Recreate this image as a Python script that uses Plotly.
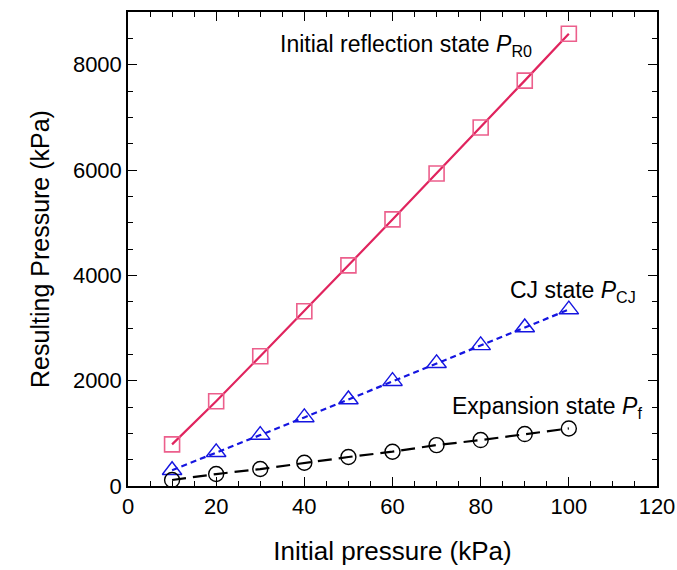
import plotly.graph_objects as go

x_kpa = [10, 20, 30, 40, 50, 60, 70, 80, 90, 100]
p_reflect = [790, 1610, 2465, 3318, 4190, 5062, 5934, 6806, 7697, 8588]
p_cj = [300, 640, 967, 1302, 1643, 1990, 2330, 2670, 3010, 3350]
p_exp = [114, 227, 322, 442, 550, 651, 777, 872, 986, 1093]

x_ticks = [0, 20, 40, 60, 80, 100, 120]
y_ticks = [0, 2000, 4000, 6000, 8000]

FONT = "Liberation Sans, Arial, sans-serif"

fig = go.Figure()
fig.add_trace(go.Scatter(
    x=x_kpa, y=p_reflect, mode="lines+markers",
    line=dict(color="#e0245e", width=2.2),
    marker=dict(symbol="square-open", size=15, color="#ec5f8c", line=dict(width=1.6)),
    showlegend=False))
fig.add_trace(go.Scatter(
    x=x_kpa, y=p_cj, mode="lines+markers",
    line=dict(color="#1515e0", width=2.2, dash="6px,4px"),
    marker=dict(symbol="triangle-up-open", size=17, color="#1515e0", line=dict(width=1.4)),
    showlegend=False))
fig.add_trace(go.Scatter(
    x=x_kpa, y=p_exp, mode="lines+markers",
    line=dict(color="black", width=2.2, dash="14px,7px"),
    marker=dict(symbol="circle-open", size=15, color="black", line=dict(width=1.4)),
    showlegend=False))

axis_common = dict(
    showline=True, linecolor="black", linewidth=1.5, mirror="allticks",
    ticks="inside", ticklen=9, tickwidth=1.3, tickcolor="black",
    showgrid=False, zeroline=False, automargin=False,
    tickfont=dict(family=FONT, size=22, color="black"),
)

fig.update_xaxes(
    range=[0, 120], tickvals=x_ticks, ticktext=[str(v) for v in x_ticks],
    minor=dict(ticks="inside", ticklen=5, tickwidth=1.2, tickcolor="black", dtick=5, tick0=0, showgrid=False),
    title=dict(text="Initial pressure (kPa)", font=dict(family=FONT, size=26, color="black"), standoff=24),
    **axis_common)
fig.update_yaxes(
    range=[0, 9000], tickvals=y_ticks, ticktext=[str(v) for v in y_ticks],
    minor=dict(ticks="inside", ticklen=5, tickwidth=1.2, tickcolor="black", dtick=500, tick0=0, showgrid=False),
    title=dict(text="Resulting Pressure (kPa)", font=dict(family=FONT, size=25, color="black"), standoff=16),
    **axis_common)

ann_font = dict(family=FONT, size=23, color="black")
fig.add_annotation(x=0.2836, y=0.93, xref="paper", yref="paper", xanchor="left", yanchor="middle",
                   text="Initial reflection state <i>P</i><sub>R0</sub>", showarrow=False, font=ann_font)
fig.add_annotation(x=0.718, y=0.41, xref="paper", yref="paper", xanchor="left", yanchor="middle",
                   text="CJ state <i>P</i><sub>CJ</sub>", showarrow=False, font=ann_font)
fig.add_annotation(x=0.608, y=0.165, xref="paper", yref="paper", xanchor="left", yanchor="middle",
                   text="Expansion state <i>P</i><sub>f</sub>", showarrow=False, font=ann_font)

fig.update_layout(
    width=677, height=570,
    margin=dict(l=128, r=20, t=12, b=84, autoexpand=False),
    plot_bgcolor="white", paper_bgcolor="white",
    font=dict(family=FONT, color="black"),
)

fig.write_html("out.html", config={"displayModeBar": False},
               post_script="document.body.style.margin='0';document.body.style.overflow='hidden';")
